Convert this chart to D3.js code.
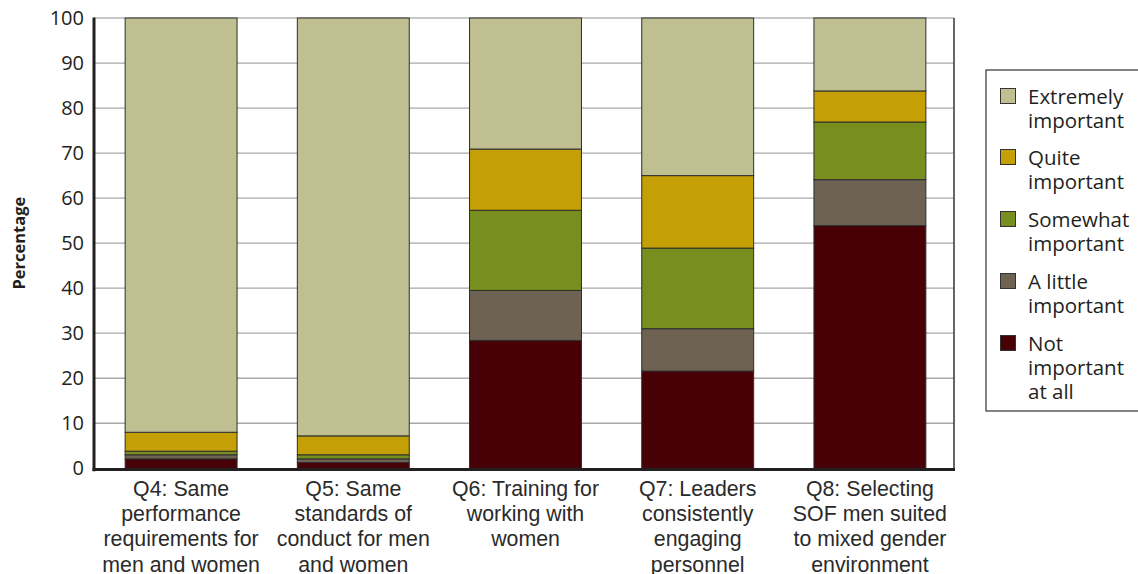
<!DOCTYPE html>
<html><head><meta charset="utf-8">
<script src="https://cdn.jsdelivr.net/npm/d3@7"></script>
<style>
html,body{margin:0;padding:0;background:#fff;}
svg{display:block;}
</style></head>
<body>
<svg id="chart" width="1138" height="574"></svg>
<script>
const categories = ["Q4","Q5","Q6","Q7","Q8"];
const categoryLabels = [
  ["Q4: Same","performance","requirements for","men and women"],
  ["Q5: Same","standards of","conduct for men","and women"],
  ["Q6: Training for","working with","women"],
  ["Q7: Leaders","consistently","engaging","personnel"],
  ["Q8: Selecting","SOF men suited","to mixed gender","environment"]
];
const seriesKeys = ["Not important at all","A little important","Somewhat important","Quite important","Extremely important"];
const notImportant   = [2.1, 1.3, 28.4, 21.6, 53.9];
const aLittle        = [0.9, 0.8, 11.1,  9.4, 10.2];
const somewhat       = [0.8, 0.9, 17.8, 17.9, 12.8];
const quite          = [4.2, 4.2, 13.6, 16.1,  6.9];
const extremely      = [92.0, 92.8, 29.1, 35.0, 16.2];
const yTicks = [0,10,20,30,40,50,60,70,80,90,100];
const colors = ["#470005","#6e6253","#788e1f","#c49f05","#bfbf92"];
const legendLabels = [
  ["Extremely","important"],
  ["Quite","important"],
  ["Somewhat","important"],
  ["A little","important"],
  ["Not","important","at all"]
];
const legendColors = ["#bfbf92","#c49f05","#788e1f","#6e6253","#470005"];

const seriesValues = [notImportant, aLittle, somewhat, quite, extremely];
const rows = categories.map((c,i)=>{
  const r = {cat:c};
  seriesKeys.forEach((k,j)=> r[k]=seriesValues[j][i]);
  return r;
});

const svg = d3.select("#chart");
const L=94, R=954, T=18, B=468.3;
const x = d3.scaleBand().domain(categories).range([95,956]).paddingInner(0.35).paddingOuter(0.175);
const y = d3.scaleLinear().domain([0,100]).range([B,T]);

// gridlines
svg.append("g").selectAll("line").data(yTicks.filter(t=>t>0)).join("line")
  .attr("x1",L).attr("x2",R).attr("y1",d=>y(d)).attr("y2",d=>y(d))
  .attr("stroke",d=>d===100?"#b5b5b5":"#a8a8a8").attr("stroke-width",1.3);

// bars
const stacked = d3.stack().keys(seriesKeys)(rows);
svg.append("g").selectAll("g").data(stacked).join("g")
  .attr("fill",(d,i)=>colors[i])
  .selectAll("rect").data(d=>d).join("rect")
  .attr("x",d=>x(d.data.cat)).attr("width",x.bandwidth())
  .attr("y",d=>y(d[1])).attr("height",d=>y(d[0])-y(d[1]))
  .attr("stroke","#2e2e2e").attr("stroke-width",1);

// right border
svg.append("line").attr("x1",R).attr("x2",R).attr("y1",T).attr("y2",B)
  .attr("stroke","#333").attr("stroke-width",1.5);

// axes
const yAxis = d3.axisLeft(y).tickValues(yTicks).tickSize(0).tickPadding(10);
const gy = svg.append("g").attr("transform",`translate(${L},0)`).call(yAxis);
gy.select(".domain").remove();
gy.selectAll("text").attr("font-family","'Open Sans', 'Noto Sans', sans-serif")
  .attr("font-size",20).attr("fill","#231f20").attr("x",-10);
svg.append("line").attr("x1",L).attr("x2",L).attr("y1",T-0.5).attr("y2",B+3)
  .attr("stroke","#231f20").attr("stroke-width",3);
svg.append("line").attr("x1",L-1.5).attr("x2",R+1).attr("y1",B+1.2).attr("y2",B+1.2)
  .attr("stroke","#231f20").attr("stroke-width",3);

// y title
svg.append("text").attr("transform",`translate(25,${(T+B)/2}) rotate(-90)`)
  .attr("text-anchor","middle").attr("font-family","'Open Sans', 'Noto Sans', sans-serif")
  .attr("font-weight","bold").attr("font-size",16.5).attr("fill","#231f20").text("Percentage");

// category labels
const xAxis = d3.axisBottom(x).tickSize(0).tickFormat("");
const gx = svg.append("g").attr("transform",`translate(0,${B})`).call(xAxis);
gx.select(".domain").remove();
categories.forEach((c,i)=>{
  const t = svg.append("text").attr("text-anchor","middle")
    .attr("font-family","'Liberation Sans',Arial,sans-serif")
    .attr("font-size",22).attr("fill","#2a2a2a")
    .attr("transform",`translate(${x(c)+x.bandwidth()/2},0) scale(0.97,1)`);
  categoryLabels[i].forEach((line,k)=>{
    t.append("tspan").attr("x",0).attr("y",496+k*25.2).text(line);
  });
});

// legend
const lg = svg.append("g");
lg.append("rect").attr("x",986).attr("y",70).attr("width",160).attr("height",341)
  .attr("fill","#fff").attr("stroke","#333").attr("stroke-width",1.2);
const entryY = [88,149,211,273,335];
legendLabels.forEach((lines,i)=>{
  lg.append("rect").attr("x",1000.5).attr("y",entryY[i]+0.5).attr("width",15).attr("height",15)
    .attr("fill",legendColors[i]).attr("stroke","#333").attr("stroke-width",1);
  const t = lg.append("text").attr("font-family","'Open Sans','Noto Sans',sans-serif")
    .attr("font-size",20.5).attr("fill","#231f20");
  lines.forEach((line,k)=>{
    t.append("tspan").attr("x",1028).attr("y",entryY[i]+16+k*24).text(line);
  });
});
</script>
</body></html>
